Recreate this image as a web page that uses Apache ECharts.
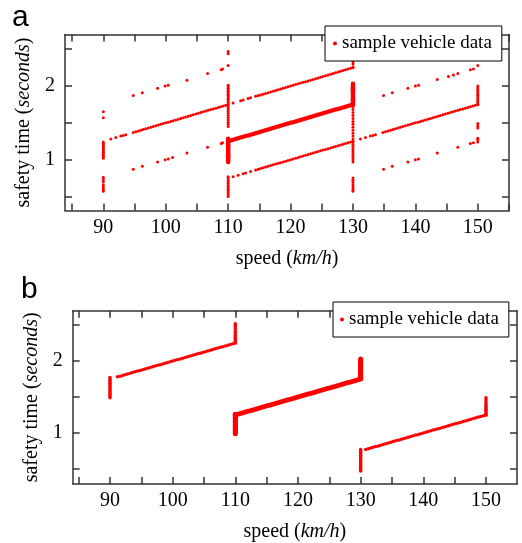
<!DOCTYPE html>
<html><head><meta charset="utf-8">
<script src="https://cdn.jsdelivr.net/npm/echarts@6/dist/echarts.min.js"></script>
<style>html,body{margin:0;padding:0;background:#fff}#c{width:522px;height:543px}</style>
</head><body><div id="c"></div>
<script>
// ---------- tick values ----------
const xTicks = [85,90,95,100,105,110,115,120,125,130,135,140,145,150,155];
const xLabels = [90,100,110,120,130,140,150];
const yTicks = [0.5,1,1.5,2,2.5];
const yLabels = [1,2];
const seriesName = 'sample vehicle data';

// ---------- panel a : lines (speed km/h, safety time s) ----------
const aMain90 = [[91.2,1.28],[92,1.30],[92.8,1.32],[93.2,1.33],[93.6,1.34],[94.8,1.37],[95.2,1.38],[95.6,1.39],[96,1.40],[96.4,1.41],[96.8,1.42],[97.2,1.43],[97.6,1.44],[98,1.45],[98.4,1.46],[98.8,1.47],[99.2,1.48],[99.6,1.49],[100,1.50],[100.4,1.51],[100.8,1.52],[101.2,1.53],[101.6,1.54],[102,1.55],[102.4,1.56],[102.8,1.57],[103.2,1.58],[103.6,1.59],[104,1.60],[104.4,1.61],[104.8,1.62],[105.2,1.63],[105.6,1.64],[106,1.65],[106.4,1.66],[106.8,1.67],[107.2,1.68],[107.6,1.69],[108,1.70],[108.4,1.71],[108.8,1.72],[109.2,1.73],[109.6,1.74],[110,1.75]];
const aUpperB = [[110.8,1.77],[112,1.80],[112.4,1.81],[113.2,1.83],[113.6,1.84],[114.4,1.86],[114.8,1.87],[115.2,1.88],[115.6,1.89],[116,1.90],[116.4,1.91],[116.8,1.92],[117.2,1.93],[117.6,1.94],[118,1.95],[118.4,1.96],[118.8,1.97],[119.2,1.98],[119.6,1.99],[120,2.00],[120.4,2.01],[120.8,2.02],[121.2,2.03],[121.6,2.04],[122,2.05],[122.4,2.06],[122.8,2.07],[123.2,2.08],[123.6,2.09],[124,2.10],[124.4,2.11],[124.8,2.12],[125.2,2.13],[125.6,2.14],[126,2.15],[126.4,2.16],[126.8,2.17],[127.2,2.18],[127.6,2.19],[128,2.20],[128.4,2.21],[128.8,2.22],[129.2,2.23],[129.6,2.24],[130,2.25]];
const aLowerB = [[110.8,0.77],[111.6,0.79],[112.4,0.81],[112.8,0.82],[113.6,0.84],[114.4,0.86],[114.8,0.87],[115.2,0.88],[115.6,0.89],[116,0.90],[116.4,0.91],[116.8,0.92],[117.2,0.93],[117.6,0.94],[118,0.95],[118.4,0.96],[118.8,0.97],[119.2,0.98],[119.6,0.99],[120,1.00],[120.4,1.01],[120.8,1.02],[121.2,1.03],[121.6,1.04],[122,1.05],[122.4,1.06],[122.8,1.07],[123.2,1.08],[123.6,1.09],[124,1.10],[124.4,1.11],[124.8,1.12],[125.2,1.13],[125.6,1.14],[126,1.15],[126.4,1.16],[126.8,1.17],[127.2,1.18],[127.6,1.19],[128,1.20],[128.4,1.21],[128.8,1.22],[129.2,1.23],[129.6,1.24],[130,1.25]];
const aMidB = [[110,1.25],[110.4,1.26],[110.8,1.27],[111.2,1.28],[111.6,1.29],[112,1.30],[112.4,1.31],[112.8,1.32],[113.2,1.33],[113.6,1.34],[114,1.35],[114.4,1.36],[114.8,1.37],[115.2,1.38],[115.6,1.39],[116,1.40],[116.4,1.41],[116.8,1.42],[117.2,1.43],[117.6,1.44],[118,1.45],[118.4,1.46],[118.8,1.47],[119.2,1.48],[119.6,1.49],[120,1.50],[120.4,1.51],[120.8,1.52],[121.2,1.53],[121.6,1.54],[122,1.55],[122.4,1.56],[122.8,1.57],[123.2,1.58],[123.6,1.59],[124,1.60],[124.4,1.61],[124.8,1.62],[125.2,1.63],[125.6,1.64],[126,1.65],[126.4,1.66],[126.8,1.67],[127.2,1.68],[127.6,1.69],[128,1.70],[128.4,1.71],[128.8,1.72],[129.2,1.73],[129.6,1.74],[130,1.75]];
const aMainC = [[131.2,1.28],[132,1.30],[132.8,1.32],[133.2,1.33],[133.6,1.34],[134.8,1.37],[135.2,1.38],[135.6,1.39],[136,1.40],[136.4,1.41],[136.8,1.42],[137.2,1.43],[137.6,1.44],[138,1.45],[138.4,1.46],[138.8,1.47],[139.2,1.48],[139.6,1.49],[140,1.50],[140.4,1.51],[140.8,1.52],[141.2,1.53],[141.6,1.54],[142,1.55],[142.4,1.56],[142.8,1.57],[143.2,1.58],[143.6,1.59],[144,1.60],[144.4,1.61],[144.8,1.62],[145.2,1.63],[145.6,1.64],[146,1.65],[146.4,1.66],[146.8,1.67],[147.2,1.68],[147.6,1.69],[148,1.70],[148.4,1.71],[148.8,1.72],[149.2,1.73],[149.6,1.74],[150,1.75]];
const aUpper90 = [[94.8,1.87],[96.25,1.91],[98.7,1.97],[99.9,2.0],[100.4,2.01],[103.4,2.08],[106.7,2.17],[108.9,2.22],[109.1,2.23]];
const aLower90 = [[94.8,0.87],[96.25,0.91],[98.7,0.97],[99.9,1.0],[100.4,1.01],[101.1,1.03],[103.4,1.09],[106.7,1.17],[108.9,1.22],[109.1,1.23]];
const aUpperC = [[134.9,1.87],[136.3,1.91],[138.8,1.97],[140,2.0],[140.5,2.01],[143.5,2.09],[145.3,2.13],[146.1,2.15],[146.8,2.17],[148.8,2.22],[149.3,2.23]];
const aLowerC = [[134.9,0.87],[136.3,0.91],[138.8,0.97],[140,1.0],[140.5,1.01],[143.5,1.09],[146.8,1.17],[148.8,1.22],[149.3,1.23]];
// panel a : vertical clusters (times at one speed)
const a90Times = [0.57,0.60,0.63,0.66,0.70,0.73,0.76,1.02,1.04,1.06,1.08,1.10,1.12,1.14,1.16,1.18,1.20,1.22,1.24,1.57,1.65];
const a110Times = [0.50,0.525,0.55,0.575,0.60,0.625,0.65,0.675,0.70,0.725,0.75,0.77,1.45,1.48,1.51,1.54,1.57,1.60,1.63,1.66,1.69,1.72,1.75,1.78,1.81,1.83,1.85,1.87,1.89,1.91,1.93,1.95,1.97,1.99,2.01,2.28,2.44,2.47];
const a110Dense = [0.97,0.985,1.00,1.015,1.03,1.045,1.06,1.075,1.09,1.105,1.12,1.135,1.15,1.165,1.18,1.195,1.21,1.225,1.24,1.255,1.27,1.285];
const a130Times = [0.57,0.60,0.63,0.66,0.69,0.72,0.75,0.97,1.00,1.03,1.06,1.09,1.12,1.15,1.18,1.21,1.24,1.28,1.32,1.36,1.40,1.44,1.48,1.52,1.56,1.60,1.64,1.68,1.72,2.26,2.30,2.33];
const a130Dense = [1.745,1.76,1.775,1.79,1.805,1.82,1.835,1.85,1.865,1.88,1.895,1.91,1.925,1.94,1.955,1.97,1.985,2.00,2.015,2.03];
const a150Times = [1.24,1.27,1.29,1.43,1.46,1.49,1.75,1.775,1.80,1.825,1.85,1.875,1.90,1.925,1.95,1.975,2.00,2.28];

// ---------- panel b ----------
const bSeg1 = [[91.2,1.78],[91.6,1.79],[92,1.80],[92.4,1.81],[92.8,1.82],[93.2,1.83],[93.6,1.84],[94,1.85],[94.4,1.86],[94.8,1.87],[95.2,1.88],[95.6,1.89],[96,1.90],[96.4,1.91],[96.8,1.92],[97.2,1.93],[97.6,1.94],[98,1.95],[98.4,1.96],[98.8,1.97],[99.2,1.98],[99.6,1.99],[100,2.00],[100.4,2.01],[100.8,2.02],[101.2,2.03],[101.6,2.04],[102,2.05],[102.4,2.06],[102.8,2.07],[103.2,2.08],[103.6,2.09],[104,2.10],[104.4,2.11],[104.8,2.12],[105.2,2.13],[105.6,2.14],[106,2.15],[106.4,2.16],[106.8,2.17],[107.2,2.18],[107.6,2.19],[108,2.20],[108.4,2.21],[108.8,2.22],[109.2,2.23],[109.6,2.24],[110,2.25]];
const bSeg2 = [[110,1.25],[110.4,1.26],[110.8,1.27],[111.2,1.28],[111.6,1.29],[112,1.30],[112.4,1.31],[112.8,1.32],[113.2,1.33],[113.6,1.34],[114,1.35],[114.4,1.36],[114.8,1.37],[115.2,1.38],[115.6,1.39],[116,1.40],[116.4,1.41],[116.8,1.42],[117.2,1.43],[117.6,1.44],[118,1.45],[118.4,1.46],[118.8,1.47],[119.2,1.48],[119.6,1.49],[120,1.50],[120.4,1.51],[120.8,1.52],[121.2,1.53],[121.6,1.54],[122,1.55],[122.4,1.56],[122.8,1.57],[123.2,1.58],[123.6,1.59],[124,1.60],[124.4,1.61],[124.8,1.62],[125.2,1.63],[125.6,1.64],[126,1.65],[126.4,1.66],[126.8,1.67],[127.2,1.68],[127.6,1.69],[128,1.70],[128.4,1.71],[128.8,1.72],[129.2,1.73],[129.6,1.74],[130,1.75]];
const bSeg3 = [[130.8,0.77],[131.2,0.78],[131.6,0.79],[132,0.80],[132.4,0.81],[132.8,0.82],[133.2,0.83],[133.6,0.84],[134,0.85],[134.4,0.86],[134.8,0.87],[135.2,0.88],[135.6,0.89],[136,0.90],[136.4,0.91],[136.8,0.92],[137.2,0.93],[137.6,0.94],[138,0.95],[138.4,0.96],[138.8,0.97],[139.2,0.98],[139.6,0.99],[140,1.00],[140.4,1.01],[140.8,1.02],[141.2,1.03],[141.6,1.04],[142,1.05],[142.4,1.06],[142.8,1.07],[143.2,1.08],[143.6,1.09],[144,1.10],[144.4,1.11],[144.8,1.12],[145.2,1.13],[145.6,1.14],[146,1.15],[146.4,1.16],[146.8,1.17],[147.2,1.18],[147.6,1.19],[148,1.20],[148.4,1.21],[148.8,1.22],[149.2,1.23],[149.6,1.24],[150,1.25]];
const b90Times = [1.49,1.51,1.53,1.55,1.57,1.59,1.61,1.63,1.65,1.67,1.69,1.71,1.73,1.75,1.77];
const b110TopTimes = [2.25,2.27,2.29,2.31,2.33,2.35,2.37,2.40,2.43,2.46,2.49,2.52];
const b110LowTimes = [0.99,1.005,1.02,1.035,1.05,1.065,1.08,1.095,1.11,1.125,1.14,1.155,1.17,1.185,1.20,1.215,1.23,1.245,1.26];
const b130TopTimes = [1.76,1.775,1.79,1.805,1.82,1.835,1.85,1.865,1.88,1.895,1.91,1.925,1.94,1.955,1.97,1.985,2.00,2.015,2.03];
const b130LowTimes = [0.47,0.49,0.51,0.53,0.55,0.57,0.59,0.61,0.63,0.65,0.67,0.69,0.71,0.73,0.75,0.77];
const b150Times = [1.25,1.27,1.29,1.31,1.33,1.35,1.37,1.40,1.43,1.46,1.49];

// ---------- build ----------
const col = (speed, times) => times.map(t => [speed, t]);
const SERIF = 'Liberation Serif';
const RED = '#ff0000';
const AX = '#333';

const aThin = [].concat(aMain90, aUpperB, aLowerB, aMainC, aUpper90, aLower90, aUpperC, aLowerC,
  col(90, a90Times), col(110, a110Times), col(130, a130Times), col(150, a150Times));
const aThick = [].concat(aMidB, col(110, a110Dense), col(130, a130Dense));
const bThin = [].concat(bSeg1, bSeg3, col(90, b90Times), col(110, b110TopTimes), col(130, b130LowTimes), col(150, b150Times));
const bThick = [].concat(bSeg2, col(110, b110LowTimes), col(130, b130TopTimes));

function xAxes(g, min, max) {
  const base = {gridIndex: g, type: 'value', min, max, splitLine: {show: false},
    axisLine: {onZero: false, lineStyle: {color: AX, width: 1.5}},
    axisTick: {inside: true, length: 7, customValues: xTicks, lineStyle: {color: AX, width: 1.5}}};
  return [
    Object.assign({}, base, {position: 'bottom',
      axisLabel: {customValues: xLabels, fontFamily: SERIF, fontSize: 20, color: '#000', margin: 7},
      name: 'speed ({i|km/h})', nameLocation: 'middle', nameGap: 38,
      nameTextStyle: {fontFamily: SERIF, fontSize: 20, color: '#000',
        rich: {i: {fontFamily: SERIF, fontSize: 20, fontStyle: 'italic', color: '#000'}}}}),
    Object.assign({}, base, {position: 'top', axisLabel: {show: false}})
  ];
}
function yAxes(g, min, max) {
  const base = {gridIndex: g, type: 'value', min, max, splitLine: {show: false},
    axisLine: {onZero: false, lineStyle: {color: AX, width: 1.5}},
    axisTick: {inside: true, length: 7, customValues: yTicks, lineStyle: {color: AX, width: 1.5}}};
  return [
    Object.assign({}, base, {position: 'left',
      axisLabel: {customValues: yLabels, fontFamily: SERIF, fontSize: 20, color: '#000', margin: 10},
      name: 'safety time ({i|seconds})', nameLocation: 'middle', nameGap: 31, nameRotate: 90,
      nameTextStyle: {fontFamily: SERIF, fontSize: 20, color: '#000',
        rich: {i: {fontFamily: SERIF, fontSize: 20, fontStyle: 'italic', color: '#000'}}}}),
    Object.assign({}, base, {position: 'right', axisLabel: {show: false}})
  ];
}
function sc(xi, yi, data, size) {
  return {type: 'scatter', name: seriesName, xAxisIndex: xi, yAxisIndex: yi, data,
    symbol: 'circle', symbolSize: size, itemStyle: {color: RED, opacity: 1}, silent: true};
}
function legend(left, top, pad) {
  return {show: true, data: [seriesName], left, top, orient: 'vertical',
    backgroundColor: '#fff', borderColor: '#000', borderWidth: 1, borderRadius: 0,
    padding: pad, itemWidth: 4, itemHeight: 4, icon: 'circle', selectedMode: false,
    textStyle: {fontFamily: SERIF, fontSize: 19, color: '#000'}};
}

const chart = echarts.init(document.getElementById('c'), null, {renderer: 'canvas'});
chart.setOption({
  animation: false,
  backgroundColor: '#fff',
  title: [
    {text: 'a', left: 12, top: 3, padding: 0, textStyle: {fontFamily: 'Liberation Sans', fontSize: 30, fontWeight: 'normal', color: '#000'}},
    {text: 'b', left: 21, top: 275, padding: 0, textStyle: {fontFamily: 'Liberation Sans', fontSize: 30, fontWeight: 'normal', color: '#000'}}
  ],
  legend: [legend(325, 26, [8, 10, 8, 8]), legend(333, 302, [8, 10, 8, 7])],
  grid: [
    {left: 65, top: 34.5, width: 444, height: 176},
    {left: 72.7, top: 310.7, width: 444.3, height: 176}
  ],
  xAxis: [].concat(xAxes(0, 83.86, 155), xAxes(1, 84.05, 154.95)),
  yAxis: [].concat(yAxes(0, 0.31, 2.7), yAxes(1, 0.29, 2.7)),
  series: [
    sc(0, 0, aThin, 3), sc(0, 0, aThick, 4.5),
    sc(2, 2, bThin, 3.5), sc(2, 2, bThick, 5)
  ]
});
</script></body></html>
